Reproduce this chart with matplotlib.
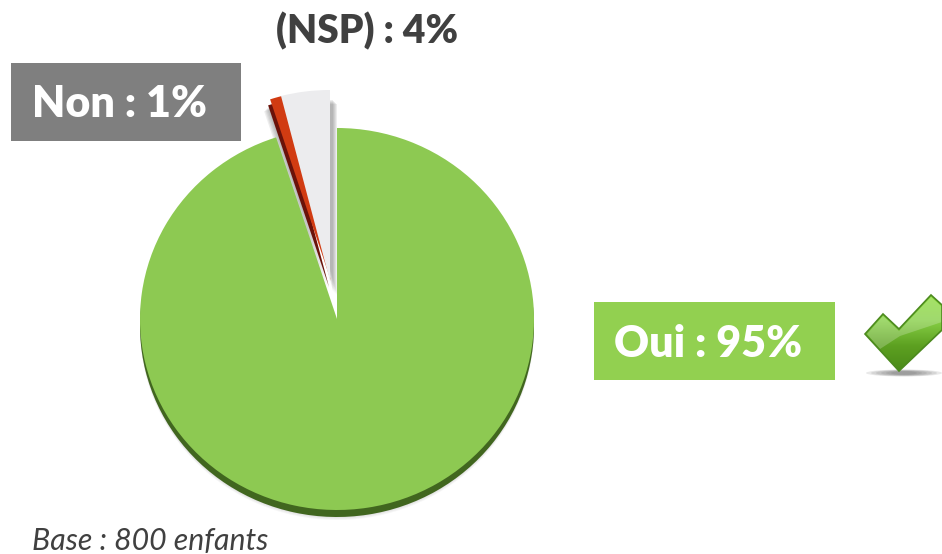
import numpy as np
import matplotlib
matplotlib.use('Agg')
import matplotlib.pyplot as plt
from matplotlib.patches import Polygon, Rectangle, Ellipse
from matplotlib.colors import LinearSegmentedColormap

# data
categories = ['Oui', 'Non', '(NSP)']
values = [95, 1, 4]
base_label = 'Base : 800 enfants'

W, H = 942, 554
plt.rcParams['font.family'] = ['Lato', 'DejaVu Sans']

fig = plt.figure(figsize=(W / 100, H / 100), dpi=100)

# the pie is a bit flattened (3D tilt), so it gets its own axes
squash = 191 / 197.0
ax_pie = fig.add_axes([0, 0, 1, 1])
cx, cy = 337, (H - 319) / squash
radius = 197


def draw_pie(colors, dx=0, dy=0, alpha=1.0, zorder=1, parts=(True, True, True)):
    wedges, _ = ax_pie.pie(values, colors=colors, startangle=90, counterclock=False,
                           center=(cx, cy), radius=radius, frame=True,
                           wedgeprops={'linewidth': 0, 'alpha': alpha})
    # the two small slices are pulled out together, up and slightly left
    offsets = [(0, 0), (-6, 38 / squash), (-7, 38 / squash)]
    for w, off, show in zip(wedges, offsets, parts):
        w.set_center((cx + off[0] + dx, cy + off[1] + dy / squash))
        w.set_zorder(zorder)
        w.set_visible(show)
    return wedges


# soft shadows
for k in range(5):
    draw_pie(['#555555'] * 3, dx=0, dy=-(10 - k), alpha=0.05, zorder=1, parts=(True, False, False))
    draw_pie(['#555555'] * 3, dx=7 - k, dy=-(14 - k), alpha=0.10, zorder=3, parts=(False, False, True))
    draw_pie(['#555555'] * 3, dx=-(6 - k), dy=-(12 - k), alpha=0.10, zorder=3, parts=(False, True, False))

# dark depth
draw_pie(['#41661f', '#000000', '#000000'], dy=-7, zorder=2, parts=(True, False, False))
draw_pie(['#000000', '#6a120a', '#000000'], dx=-2, dy=-6, zorder=4, parts=(False, True, False))

# slices
green, red, white = draw_pie(['#8dc952', '#d13b12', '#ececee'], zorder=5)
ax_pie.set_aspect('auto')
ax_pie.set_xlim(0, W)
ax_pie.set_ylim(0, H / squash)
ax_pie.axis('off')

# labels, in pixel coords
ax = fig.add_axes([0, 0, 1, 1], facecolor='none')
ax.set_xlim(0, W)
ax.set_ylim(H, 0)
ax.axis('off')

ax.add_patch(Rectangle((11, 63), 230, 78, facecolor='#7f7f7f', edgecolor='none'))
ax.text(120, 104, f'{categories[1]} : {values[1]}%', color='white', fontsize=31, fontweight='heavy',
        ha='center', va='center')
ax.add_patch(Rectangle((594, 302), 241, 78, facecolor='#92d050', edgecolor='none'))
ax.text(708, 344, f'{categories[0]} : {values[0]}%', color='white', fontsize=31, fontweight='heavy',
        ha='center', va='center')
ax.text(367, 31, f'{categories[2]} : {values[2]}%', color='#404040', fontsize=28, fontweight='heavy',
        ha='center', va='center')
ax.text(32, 541, base_label, color='#404040', fontsize=21.8, fontstyle='italic', ha='left', va='center')

# check mark with its little shadow
for k in range(6):
    ax.add_patch(Ellipse((904, 373), 76 - 10 * k, 7 - k * 0.7, facecolor='#555555', edgecolor='none', alpha=0.13))
check = Polygon([(865, 334), (883, 314), (899, 329), (931, 295), (942, 305), (942, 330), (899, 371)],
                closed=True, facecolor='none', edgecolor='#4c8a1e', linewidth=1.2, zorder=6)
ax.add_patch(check)
cmap = LinearSegmentedColormap.from_list('check', ['#8edc3c', '#86cf45', '#5da021', '#4a8a18'])
img = ax.imshow(np.linspace(0, 1, 64).reshape(-1, 1), extent=(860, 942, 372, 294), cmap=cmap,
                aspect='auto', zorder=5)
img.set_clip_path(check)
# gloss on the upper part
gloss = Polygon([(867, 334), (883, 316), (899, 331), (931, 297), (942, 307), (942, 322), (900, 336), (880, 349)],
                closed=True, facecolor='white', edgecolor='none', alpha=0.22, zorder=5.5)
ax.add_patch(gloss)
ax.set_xlim(0, W)
ax.set_ylim(H, 0)

fig.savefig('out.png', dpi=100)
